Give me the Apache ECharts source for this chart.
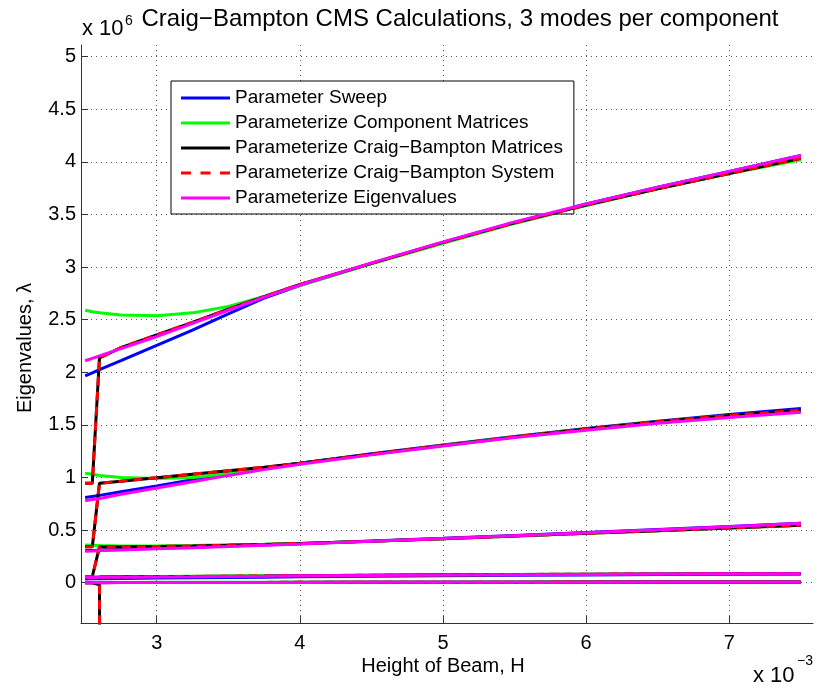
<!DOCTYPE html>
<html><head><meta charset="utf-8">
<script src="https://cdn.jsdelivr.net/npm/echarts@6/dist/echarts.min.js"></script>
<style>html,body{margin:0;padding:0;background:#fff}#c{width:817px;height:692px}</style>
</head><body><div id="c"></div>
<script>
// ---- data (x in units of 1e-3, y in units of 1e6) ----
const xs = [2.5, 2.55, 2.6, 2.75, 3.0, 3.25, 3.5, 3.75, 4.0, 4.5, 5.0, 5.5, 6.0, 6.5, 7.0, 7.5];
const xTicks = [3, 4, 5, 6, 7];
const yTicks = [0, 0.5, 1, 1.5, 2, 2.5, 3, 3.5, 4, 4.5, 5];
const legendNames = ['Parameter Sweep', 'Parameterize Component Matrices', 'Parameterize Craig\u2212Bampton Matrices', 'Parameterize Craig\u2212Bampton System', 'Parameterize Eigenvalues'];

// Parameter Sweep (blue)
const sweep1 = [1.965, 1.995, 2.025, 2.11, 2.255, 2.40, 2.555, 2.705, 2.825, 3.035, 3.235, 3.425, 3.60, 3.76, 3.91, 4.06];
const sweep2 = [0.81, 0.82, 0.83, 0.865, 0.92, 0.98, 1.035, 1.09, 1.135, 1.225, 1.31, 1.39, 1.465, 1.535, 1.60, 1.655];
const sweep3 = [0.305, 0.307, 0.309, 0.315, 0.327, 0.337, 0.348, 0.359, 0.37, 0.396, 0.422, 0.449, 0.477, 0.505, 0.534, 0.565];
const sweep4 = [0.036, 0.037, 0.038, 0.04, 0.044, 0.047, 0.05, 0.053, 0.056, 0.061, 0.066, 0.07, 0.074, 0.077, 0.08, 0.083];
const sweep5 = [0.0, 0.0, 0.0, 0.001, 0.001, 0.002, 0.002, 0.003, 0.003, 0.004, 0.004, 0.005, 0.005, 0.006, 0.006, 0.006];

// Parameterize Component Matrices (green)
const comp1 = [2.59, 2.575, 2.565, 2.545, 2.537, 2.565, 2.625, 2.72, 2.825, 3.03, 3.225, 3.415, 3.585, 3.745, 3.89, 4.02];
const comp2 = [1.04, 1.03, 1.02, 1.0, 0.99, 1.0, 1.035, 1.085, 1.135, 1.222, 1.307, 1.387, 1.46, 1.53, 1.59, 1.635];
const comp3 = [0.358, 0.356, 0.354, 0.35, 0.35, 0.354, 0.36, 0.366, 0.373, 0.394, 0.418, 0.443, 0.469, 0.495, 0.52, 0.545];
const comp4 = [0.056, 0.056, 0.056, 0.057, 0.059, 0.061, 0.063, 0.065, 0.067, 0.071, 0.074, 0.077, 0.08, 0.082, 0.084, 0.086];
const comp5 = [0.003, 0.003, 0.003, 0.003, 0.004, 0.004, 0.004, 0.004, 0.005, 0.005, 0.005, 0.006, 0.006, 0.006, 0.007, 0.007];

// Craig-Bampton Matrices / System (black solid, red dashed share the same values)
const cb1 = [0.945, 0.945, 2.136, 2.235, 2.355, 2.475, 2.60, 2.72, 2.835, 3.035, 3.235, 3.42, 3.59, 3.745, 3.89, 4.035];
const cb2 = [0.342, 0.342, 0.945, 0.965, 0.998, 1.032, 1.065, 1.097, 1.135, 1.22, 1.305, 1.385, 1.46, 1.53, 1.59, 1.64];
const cb3 = [0.055, 0.057, 0.34, 0.34, 0.344, 0.349, 0.356, 0.364, 0.373, 0.394, 0.418, 0.443, 0.469, 0.495, 0.52, 0.545];
const cb4x = [2.5, 2.55, 2.6, 2.65];
const cb4 = [0.0, 0.0, -0.02, -20];
const cb5 = [0.055, 0.056, 0.058, 0.06, 0.062, 0.064, 0.067, 0.071, 0.075, 0.078, 0.081, 0.083, 0.085, 0.086];
const cb6 = [0.001, 0.001, 0.002, 0.002, 0.003, 0.003, 0.004, 0.004, 0.005, 0.005, 0.006, 0.006, 0.007, 0.007];

// Parameterize Eigenvalues (magenta)
const eig1 = [2.11, 2.133, 2.156, 2.225, 2.34, 2.465, 2.59, 2.715, 2.83, 3.04, 3.24, 3.43, 3.60, 3.76, 3.91, 4.06];
const eig2 = [0.78, 0.79, 0.80, 0.84, 0.90, 0.96, 1.02, 1.075, 1.125, 1.215, 1.30, 1.38, 1.45, 1.515, 1.57, 1.62];
const eig3 = [0.30, 0.302, 0.305, 0.31, 0.322, 0.333, 0.345, 0.357, 0.368, 0.395, 0.42, 0.447, 0.475, 0.503, 0.532, 0.565];
const eig4 = [0.05, 0.05, 0.051, 0.052, 0.055, 0.057, 0.06, 0.062, 0.065, 0.069, 0.073, 0.076, 0.079, 0.082, 0.084, 0.086];
const eig5 = [0.0, 0.0, 0.0, 0.001, 0.001, 0.002, 0.002, 0.003, 0.003, 0.004, 0.004, 0.005, 0.005, 0.006, 0.006, 0.006];

// ---- build ----
const FONT = "'Liberation Sans', Arial, Helvetica, sans-serif";
function pts(xa, ya) { return ya.map((y, i) => [xa[i], y]); }
const xs2 = xs.slice(2);
const cbCurves = [pts(xs, cb1), pts(xs, cb2), pts(xs, cb3), pts(cb4x, cb4), pts(xs2, cb5), pts(xs2, cb6)];
const SOLID_ICON = 'rect';
const DASH_ICON = 'path://M0,0h10v3h-10zM19.5,0h10v3h-10zM39,0h10v3h-10z';
const groups = [
  { name: legendNames[0], color: '#0000ff', type: 'solid', icon: SOLID_ICON, curves: [sweep1, sweep2, sweep3, sweep4, sweep5].map(c => pts(xs, c)) },
  { name: legendNames[1], color: '#00ff00', type: 'solid', icon: SOLID_ICON, curves: [comp1, comp2, comp3, comp4, comp5].map(c => pts(xs, c)) },
  { name: legendNames[2], color: '#000000', type: 'solid', icon: SOLID_ICON, curves: cbCurves },
  { name: legendNames[3], color: '#ff0000', type: [9, 6], icon: DASH_ICON, curves: cbCurves },
  { name: legendNames[4], color: '#ff00ff', type: 'solid', icon: SOLID_ICON, curves: [eig1, eig2, eig3, eig4, eig5].map(c => pts(xs, c)) }
];
const series = [];
groups.forEach((g, gi) => {
  g.curves.forEach(c => {
    series.push({
      type: 'line', name: g.name, data: c, symbol: 'none', smooth: false, animation: false,
      clip: true, z: 2 + gi, silent: true,
      color: g.color,
      itemStyle: { color: g.color },
      lineStyle: { color: g.color, width: 3, type: g.type, cap: 'butt' }
    });
  });
});

const chart = echarts.init(document.getElementById('c'), null, { renderer: 'canvas' });
chart.setOption({
  animation: false,
  backgroundColor: '#ffffff',
  grid: { left: 81, right: 4, top: 45, bottom: 69, containLabel: false },
  xAxis: {
    type: 'value', min: 2.471, max: 7.585,
    axisLine: { show: true, onZero: false, lineStyle: { color: '#333', width: 1 } },
    axisTick: { show: true, inside: true, length: 7, customValues: xTicks, lineStyle: { color: '#333' } },
    axisLabel: { customValues: xTicks, margin: 10, fontSize: 20, color: '#000', fontFamily: FONT },
    splitLine: { show: true, lineStyle: { type: [1, 4], color: '#555', width: 1 } }
  },
  yAxis: {
    type: 'value', min: -0.383, max: 5.111,
    axisLine: { show: true, lineStyle: { color: '#333', width: 1 } },
    axisTick: { show: true, inside: true, length: 7, customValues: yTicks, lineStyle: { color: '#333' } },
    axisLabel: { customValues: yTicks, margin: 5, fontSize: 20, color: '#000', fontFamily: FONT },
    splitLine: { show: true, lineStyle: { type: [1, 4], color: '#555', width: 1 } }
  },
  legend: {
    data: groups.map(g => ({ name: g.name, icon: g.icon, itemStyle: { color: g.color, borderWidth: 0 } })),
    orient: 'vertical', left: 171, top: 81,
    padding: [7, 11, 6, 10], itemGap: 5, itemWidth: 49, itemHeight: 3,
    borderColor: '#000', borderWidth: 1, backgroundColor: '#fff',
    selectedMode: false,
    textStyle: { fontFamily: FONT, fontSize: 19, color: '#000', lineHeight: 20 }
  },
  graphic: [
    { type: 'text', x: 460, y: 19, style: { text: 'Craig\u2212Bampton CMS Calculations, 3 modes per component', font: '24px ' + FONT, fill: '#000', textAlign: 'center', textVerticalAlign: 'middle' } },
    { type: 'text', x: 82, y: 29, style: { text: 'x 10', font: '22px ' + FONT, fill: '#000', textAlign: 'left', textVerticalAlign: 'middle' } },
    { type: 'text', x: 125, y: 21, style: { text: '6', font: '14px ' + FONT, fill: '#000', textAlign: 'left', textVerticalAlign: 'middle' } },
    { type: 'text', x: 753, y: 676, style: { text: 'x 10', font: '22px ' + FONT, fill: '#000', textAlign: 'left', textVerticalAlign: 'middle' } },
    { type: 'text', x: 797, y: 661, style: { text: '\u22123', font: '14px ' + FONT, fill: '#000', textAlign: 'left', textVerticalAlign: 'middle' } },
    { type: 'text', x: 443, y: 666, style: { text: 'Height of Beam, H', font: '20px ' + FONT, fill: '#000', textAlign: 'center', textVerticalAlign: 'middle' } },
    { type: 'text', x: 25, y: 348, rotation: Math.PI / 2, style: { text: 'Eigenvalues, \u03bb', font: '20px ' + FONT, fill: '#000', textAlign: 'center', textVerticalAlign: 'middle' } }
  ],
  series: series
});
</script>
</body></html>
